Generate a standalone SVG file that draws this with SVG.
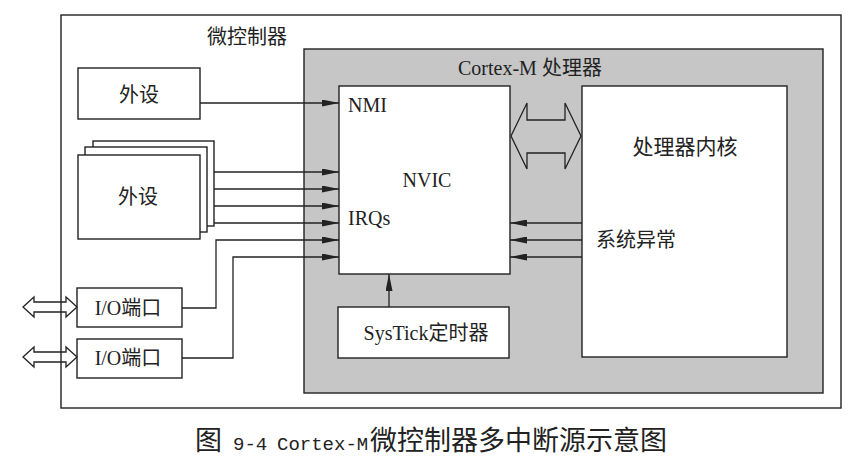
<svg xmlns="http://www.w3.org/2000/svg" width="858" height="469" viewBox="0 0 858 469">
<style>
.box{fill:#fff;stroke:#222;stroke-width:1.4}
.grey{fill:#c6c6c6;stroke:#222;stroke-width:1.4}
.ln{fill:none;stroke:#222;stroke-width:1.3}
.dbl{fill:none;stroke:#222;stroke-width:1.3;stroke-linejoin:miter}
.t{font-family:"Liberation Serif","Noto Sans CJK SC",serif;font-size:20px;fill:#222}
.c{font-family:"Noto Sans CJK SC","Liberation Sans",sans-serif;font-size:20px;fill:#222}
.m{text-anchor:middle}
.cap{font-family:"Noto Sans CJK SC",sans-serif;font-size:27px;fill:#222}
.capm{font-family:"Liberation Mono","Noto Sans CJK SC",monospace;font-size:19px}
</style>
<defs>
<marker id="ah" markerUnits="userSpaceOnUse" markerWidth="17" markerHeight="7" refX="17" refY="3.5" orient="auto">
<path d="M0,0 L17,3.5 L0,7 Z" fill="#222"/>
</marker>
</defs>
<rect width="858" height="469" fill="#fff"/>
<g id="microcontroller">
<rect class="box" x="61" y="15" width="780" height="393"/>
<text class="c" x="207" y="44">微控制器</text>
</g>
<g id="cortex-m">
<rect class="grey" x="304" y="49" width="519" height="344"/>
<text class="t" x="458" y="75">Cortex-M 处理器</text>
</g>
<g id="nvic">
<rect class="box" x="339" y="86" width="171" height="188"/>
<text class="t" x="348" y="112">NMI</text>
<text class="t m" x="427" y="187">NVIC</text>
<text class="t" x="348" y="225">IRQs</text>
</g>
<g id="core">
<rect class="box" x="582" y="86" width="205" height="271"/>
<text class="c m" x="685" y="154" style="font-size:21px">处理器内核</text>
<text class="c" x="596" y="247">系统异常</text>
</g>
<g id="systick">
<rect class="box" x="338" y="307" width="171" height="51"/>
<text class="t m" x="426" y="340">SysTick定时器</text>
</g>
<g id="peripheral1">
<rect class="box" x="78" y="68" width="122" height="51"/>
<text class="c m" x="139" y="102">外设</text>
</g>
<g id="peripherals">
<rect class="box" x="93" y="141" width="121" height="85"/>
<rect class="box" x="85" y="147" width="122" height="85"/>
<rect class="box" x="78" y="155" width="122" height="84"/>
<text class="c m" x="138" y="204">外设</text>
</g>
<g id="io1">
<rect class="box" x="77" y="288" width="105" height="39"/>
<text class="t m" x="128" y="315">I/O端口</text>
</g>
<g id="io2">
<rect class="box" x="77" y="339" width="105" height="39"/>
<text class="t m" x="128" y="365">I/O端口</text>
</g>
<g id="connectors">
<line class="ln" x1="200" y1="103" x2="339" y2="103" marker-end="url(#ah)"/>
<line class="ln" x1="214" y1="172" x2="339" y2="172" marker-end="url(#ah)"/>
<line class="ln" x1="214" y1="189" x2="339" y2="189" marker-end="url(#ah)"/>
<line class="ln" x1="214" y1="206" x2="339" y2="206" marker-end="url(#ah)"/>
<line class="ln" x1="214" y1="223" x2="339" y2="223" marker-end="url(#ah)"/>
<polyline class="ln" points="182,308 216,308 216,240 339,240" marker-end="url(#ah)"/>
<polyline class="ln" points="182,358 233,358 233,257 339,257" marker-end="url(#ah)"/>
<line class="ln" x1="582" y1="223" x2="510" y2="223" marker-end="url(#ah)"/>
<line class="ln" x1="582" y1="240" x2="510" y2="240" marker-end="url(#ah)"/>
<line class="ln" x1="582" y1="257" x2="510" y2="257" marker-end="url(#ah)"/>
<line class="ln" x1="389" y1="307" x2="389" y2="274" marker-end="url(#ah)"/>
<path class="dbl" d="M511,136 L527,103 L527,120 L565,120 L565,103 L581,136 L565,169 L565,153 L527,153 L527,169 Z"/>
<path class="dbl" d="M23,307 L34,297 L34,302 L66,302 L66,297 L77,307 L66,317 L66,312 L34,312 L34,317 Z"/>
<path class="dbl" d="M23,357 L34,347 L34,352 L66,352 L66,347 L77,357 L66,367 L66,362 L34,362 L34,367 Z"/>
</g>
<text class="cap" y="450"><tspan x="195">图</tspan><tspan class="capm" x="233">9-4</tspan><tspan class="capm" x="277">Cortex-M</tspan><tspan x="370">微控制器多中断源示意图</tspan></text>
</svg>
